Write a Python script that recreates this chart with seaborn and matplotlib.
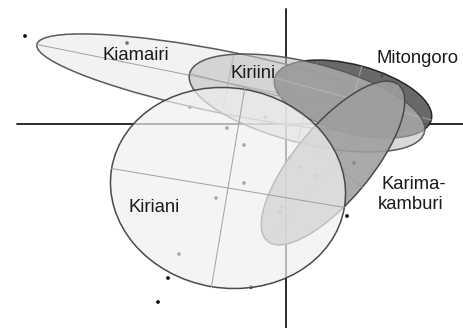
import numpy as np
import pandas as pd
import matplotlib
matplotlib.use("Agg")
import matplotlib.pyplot as plt
from matplotlib.patches import Ellipse
import seaborn as sns

# ---- data (PC1 / PC2 scores) ----
point_x = [-5.22, -3.18, -1.92, -1.18, 1.92, -0.42, 2.12, -0.84, 0.08, 1.36,
           -1.40, -2.14, -2.36, -2.56, 0.28, 0.58, -0.84, -0.08, -0.12, 1.22, -0.70]
point_y = [1.76, 1.62, 0.34, -0.08, 0.96, 0.14, 0.22, -0.42, -0.68, -0.78,
           -1.48, -2.60, -3.08, -3.56, -0.86, -1.04, -1.18, -1.66, -1.76, -1.84, -3.26]

# ellipses, in drawing order
groups      = ["Kiamairi", "Mitongoro", "Kiriini", "Karimakamburi", "Kiriani"]
ell_cx      = [-1.16, 1.34, 0.42, 0.94, -1.16]
ell_cy      = [0.82, 0.50, 0.42, -0.78, -1.28]
ell_width   = [7.80, 3.24, 4.84, 4.08, 4.72]
ell_height  = [1.24, 1.36, 1.62, 1.52, 4.00]
ell_angle   = [-11.4, -15.0, -14.0, 50.0, -9.5]

label_text  = ["Kiamairi", "Mitongoro", "Kiriini", "Karima-", "kamburi", "Kiriani"]
label_x     = [-3.00, 2.63, -0.65, 2.56, 2.50, -2.64]
label_y     = [1.28, 1.22, 0.92, -1.30, -1.70, -1.76]

# ---- styles ----
fills  = [(0.90, 0.50), (0.36, 0.92), (0.76, 0.62), (0.62, 0.88), (0.94, 0.70)]
edges  = ["#5a5a5a", "#262626", "#5a5a5a", "#4a4a4a", "#4a4a4a"]

sns.set_style("white")
plt.rcParams["font.family"] = ["Liberation Sans", "DejaVu Sans"]

fig = plt.figure(figsize=(4.64, 3.28), dpi=100)
ax = fig.add_axes([0, 0, 1, 1])
ax.set_xlim(-5.72, 3.56)
ax.set_ylim(-4.08, 2.48)
ax.set_aspect("equal")
ax.axis("off")

# cross-hair axes
ax.plot([-5.38, 3.56], [0, 0], color="#2a2a2a", lw=1.4, zorder=1)
ax.plot([0, 0], [2.30, -4.08], color="#2a2a2a", lw=1.4, zorder=1)

df = pd.DataFrame({"PC1": point_x, "PC2": point_y})
sns.scatterplot(data=df, x="PC1", y="PC2", color="black", s=7, edgecolor="none",
                ax=ax, zorder=2, legend=False)

for i, g in enumerate(groups):
    z = 3 + i
    cx, cy = ell_cx[i], ell_cy[i]
    a, b = ell_width[i] / 2, ell_height[i] / 2
    th = np.deg2rad(ell_angle[i])
    gray, alpha = fills[i]
    e = Ellipse((cx, cy), ell_width[i], ell_height[i], angle=ell_angle[i],
                facecolor=(gray, gray, gray, alpha), edgecolor=edges[i],
                lw=1.1, zorder=z)
    ax.add_patch(e)
    # major and minor axes of the ellipse
    ax.plot([cx - a * np.cos(th), cx + a * np.cos(th)],
            [cy - a * np.sin(th), cy + a * np.sin(th)],
            color="#a0a0a0", lw=0.7, zorder=z + 0.5)
    ax.plot([cx + b * np.sin(th), cx - b * np.sin(th)],
            [cy - b * np.cos(th), cy + b * np.cos(th)],
            color="#a0a0a0", lw=0.7, zorder=z + 0.5)

for t, x, y in zip(label_text, label_x, label_y):
    ax.text(x, y, t, ha="center", va="baseline", fontsize=13.3,
            color="#1a1a1a", zorder=20)

fig.savefig("out.png", dpi=100, facecolor="white")
